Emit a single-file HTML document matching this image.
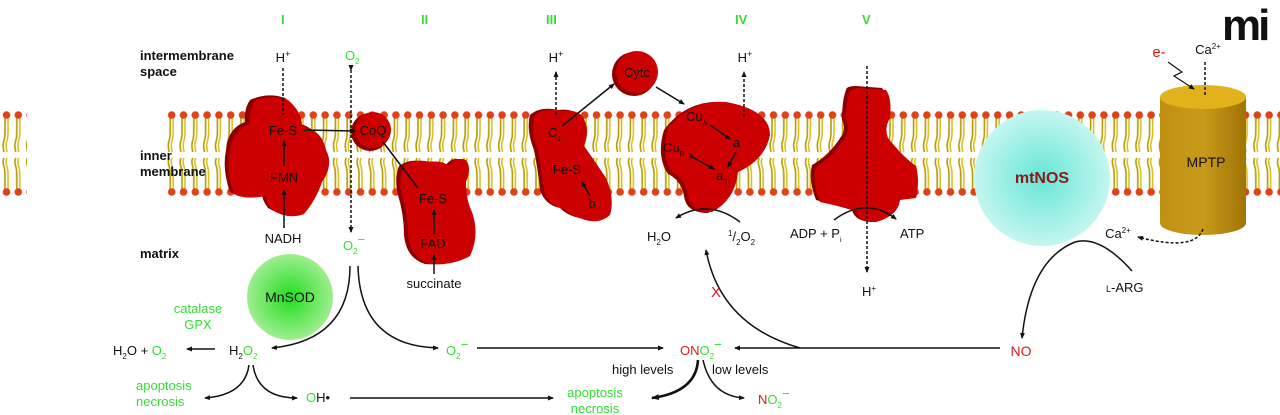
<!DOCTYPE html>
<html><head><meta charset="utf-8"><style>
html,body{margin:0;padding:0;background:#fff;}
svg{display:block;}
text{font-family:"Liberation Sans",Arial,sans-serif;font-size:13px;fill:#111;}
.g{fill:#33dd33;}
.r{fill:#e0181b;}
.b{font-weight:bold;}
.ln{stroke:#111;stroke-width:1.5;fill:none;}
.dl{stroke:#111;stroke-width:1.5;fill:none;stroke-dasharray:3,2;}
.blob{fill:#cc0000;}
.sh{fill:#8e0000;}
</style></head><body>
<svg width="1280" height="415" viewBox="0 0 1280 415" xmlns="http://www.w3.org/2000/svg">
<defs>
<pattern id="lip" x="1" y="0" width="11.8" height="415" patternUnits="userSpaceOnUse">
  <path d="M4 116 V132 Q4 138 2.5 142 Q1.5 146 3 152" stroke="#b49a00" stroke-width="1.6" fill="none"/>
  <path d="M7 116 V132 Q7 138 5.5 142 Q4.5 146 6 152" stroke="#d8c020" stroke-width="1.6" fill="none"/>
  <path d="M4 192 V175 Q4 169 2.5 165 Q1.5 161 3 158" stroke="#b49a00" stroke-width="1.6" fill="none"/>
  <path d="M7 192 V175 Q7 169 5.5 165 Q4.5 161 6 158" stroke="#d8c020" stroke-width="1.6" fill="none"/>
  <circle cx="5.5" cy="115" r="3.8" fill="#e0401a"/>
  <circle cx="5.5" cy="192" r="3.8" fill="#e0401a"/>
</pattern>
<radialGradient id="sod" cx="50%" cy="50%" r="50%"><stop offset="0" stop-color="#22dd22"/><stop offset="1" stop-color="#9eee8e"/></radialGradient>
<radialGradient id="nos" cx="50%" cy="50%" r="50%"><stop offset="0" stop-color="#66e6d6"/><stop offset="1" stop-color="#c4f6f0"/></radialGradient>
<linearGradient id="cyl" x1="0" x2="1"><stop offset="0" stop-color="#c09012"/><stop offset="0.5" stop-color="#c89a1a"/><stop offset="1" stop-color="#a07406"/></linearGradient>
<marker id="a" markerWidth="8" markerHeight="8" refX="7" refY="4" orient="auto" markerUnits="userSpaceOnUse"><path d="M0 1 L8 4 L0 7 z" fill="#111"/></marker>
<marker id="as" markerWidth="6" markerHeight="6" refX="5" refY="3" orient="auto" markerUnits="userSpaceOnUse"><path d="M0 0.5 L6 3 L0 5.5 z" fill="#111"/></marker>
</defs>

<rect x="0" y="105" width="27" height="95" fill="url(#lip)"/>
<rect x="165" y="105" width="1115" height="95" fill="url(#lip)"/>

<text class="b" x="140" y="60">intermembrane</text>
<text class="b" x="140" y="76">space</text>
<text class="b" x="140" y="160">inner</text>
<text class="b" x="140" y="176">membrane</text>
<text class="b" x="140" y="258">matrix</text>

<text class="g b" x="281" y="24">I</text>
<text class="g b" x="421" y="24">II</text>
<text class="g b" x="546" y="24">III</text>
<text class="g b" x="735" y="24">IV</text>
<text class="g b" x="862" y="24">V</text>

<!-- Complex I -->
<path class="sh" d="M250 100 Q268 92 285 98 Q300 110 300 124 Q318 128 322 150 Q330 165 318 180 Q312 200 300 212 Q285 218 268 208 Q262 200 262 194 Q240 198 230 192 Q222 170 226 150 Q228 128 245 122 Q244 108 250 100z"/>
<path class="blob" d="M256 100 Q272 94 288 100 Q302 112 302 126 Q322 130 326 150 Q334 165 322 182 Q316 200 304 214 Q288 220 272 210 Q266 202 266 196 Q244 200 234 194 Q226 172 230 152 Q232 130 250 124 Q249 110 256 100z"/>
<circle class="sh" cx="370" cy="132" r="19"/>
<circle class="blob" cx="373" cy="130" r="18"/>
<!-- Complex II -->
<path class="sh" d="M399 166 Q410 158 425 162 Q438 160 445 166 Q452 156 462 160 Q468 168 462 182 Q462 200 468 212 Q478 235 466 255 Q448 266 425 264 Q406 258 404 235 Q404 215 398 195 Q394 178 399 166z"/>
<path class="blob" d="M404 166 Q415 158 430 162 Q442 160 449 166 Q456 156 466 160 Q472 168 466 182 Q466 200 472 212 Q480 235 470 256 Q452 266 430 264 Q410 258 408 235 Q408 215 402 195 Q398 178 404 166z"/>
<!-- Complex III -->
<path class="sh" d="M530 115 Q540 106 558 110 Q575 108 580 118 Q586 130 580 145 Q590 160 602 178 Q612 198 606 215 Q595 225 580 218 Q568 216 560 208 Q545 205 540 190 Q538 170 534 150 Q526 130 530 115z"/>
<path class="blob" d="M535 115 Q545 107 562 111 Q579 109 584 119 Q590 131 584 146 Q594 160 606 178 Q615 198 610 215 Q599 225 584 219 Q572 217 564 209 Q549 206 544 191 Q542 171 538 151 Q530 130 535 115z"/>
<circle class="sh" cx="634" cy="74" r="22"/>
<circle class="blob" cx="637" cy="72" r="21"/>
<!-- Complex IV -->
<path class="sh" d="M664 130 Q686 100 722 102 Q766 108 766 136 Q762 160 734 172 Q732 200 708 213 Q686 213 684 196 Q681 180 668 174 Q656 156 664 130z"/>
<path class="blob" d="M668 128 Q690 100 726 102 Q770 110 770 135 Q765 160 738 172 Q735 200 712 212 Q690 212 688 195 Q685 178 672 172 Q660 155 668 128z"/>
<!-- Complex V -->
<path class="sh" d="M846 90 Q846 86 856 86 L882 88 Q888 96 886 118 Q880 128 884 138 Q900 158 912 165 Q916 182 912 196 L898 198 Q896 215 874 222 Q855 222 852 210 L816 200 Q808 180 812 165 Q830 155 842 135 Q846 128 842 120 Q842 100 846 90z"/>
<path class="blob" d="M850 92 Q852 88 862 88 L886 90 Q892 98 890 118 Q884 128 888 138 Q904 158 916 166 Q920 182 916 198 L900 200 Q898 216 876 222 Q858 222 856 210 L820 202 Q812 182 816 167 Q834 156 846 136 Q850 128 846 120 Q846 102 850 92z"/>

<circle cx="1042" cy="178" r="68" fill="url(#nos)"/>
<text class="b" x="1042" y="183" text-anchor="middle" style="fill:#8b1a1a;font-size:16px">mtNOS</text>

<path d="M1160 97 V223 A43 12 0 0 0 1246 223 V97 z" fill="url(#cyl)"/>
<ellipse cx="1203" cy="97" rx="43" ry="12" fill="#e2b21c"/>
<text x="1206" y="167" text-anchor="middle" style="font-size:14px">MPTP</text>
<path class="dl" d="M1205 62 V95"/>
<text x="1208" y="54" text-anchor="middle">Ca<tspan dy="-5" style="font-size:8px">2+</tspan></text>
<text class="r" x="1159" y="57" text-anchor="middle" style="font-size:15px">e-</text>
<path d="M1168 62 L1182 72 L1174 76 L1194 89" stroke="#111" stroke-width="1.2" fill="none" marker-end="url(#as)"/>
<text x="1118" y="238" text-anchor="middle">Ca<tspan dy="-5" style="font-size:8px">2+</tspan></text>
<path class="dl" d="M1203 229 Q1195 252 1138 237" marker-end="url(#as)"/>

<text x="1222" y="40" style="font-size:44px;font-weight:bold;letter-spacing:-3px">mi</text>

<text x="283" y="62" text-anchor="middle">H<tspan dy="-5" style="font-size:9px">+</tspan></text>
<path class="dl" d="M283 68 V115"/>
<text x="283" y="135" text-anchor="middle">Fe-S</text>
<text x="284" y="182" text-anchor="middle">FMN</text>
<text x="283" y="243" text-anchor="middle">NADH</text>
<path class="ln" d="M284 166 V141" marker-end="url(#as)"/>
<path class="ln" d="M284 228 V190" marker-end="url(#as)"/>
<path class="ln" d="M304 130 L355 131" marker-end="url(#as)"/>
<text x="373" y="135" text-anchor="middle">CoQ</text>

<text class="g" x="345" y="60">O<tspan dy="4" style="font-size:8px">2</tspan></text>
<path class="dl" d="M351 70 V232" marker-start="url(#as)" marker-end="url(#as)"/>
<text class="g" x="343" y="250">O<tspan dy="4" style="font-size:8px">2</tspan><tspan dy="-10">−</tspan></text>

<path class="ln" d="M383 142 L418 188"/>
<text x="433" y="203" text-anchor="middle">Fe-S</text>
<text x="433" y="248" text-anchor="middle">FAD</text>
<text x="434" y="288" text-anchor="middle">succinate</text>
<path class="ln" d="M434 234 V210" marker-end="url(#as)"/>
<path class="ln" d="M434 274 V255" marker-end="url(#as)"/>

<text x="556" y="62" text-anchor="middle">H<tspan dy="-5" style="font-size:9px">+</tspan></text>
<path class="dl" d="M556 115 V72" marker-end="url(#as)"/>
<text x="548" y="137">C<tspan dy="4" style="font-size:7px">1</tspan></text>
<text x="567" y="174" text-anchor="middle">Fe-S</text>
<text x="592" y="208" text-anchor="middle">b</text>
<path class="ln" d="M562 126 L614 84" marker-end="url(#as)"/>
<path class="ln" d="M590 196 L582 182" marker-end="url(#as)"/>
<text x="637" y="77" text-anchor="middle">Cytc</text>
<path class="ln" d="M656 87 L684 104" marker-end="url(#as)"/>

<text x="745" y="62" text-anchor="middle">H<tspan dy="-5" style="font-size:9px">+</tspan></text>
<path class="dl" d="M744 117 V72" marker-end="url(#as)"/>
<text x="686" y="121">Cu<tspan dy="4" style="font-size:7px">A</tspan></text>
<text x="733" y="147">a</text>
<text x="663" y="152">Cu<tspan dy="4" style="font-size:7px">B</tspan></text>
<text x="716" y="180">a<tspan dy="4" style="font-size:7px">3</tspan></text>
<path class="ln" d="M710 125 L730 139" marker-end="url(#as)"/>
<path class="ln" d="M736 152 L728 167" marker-end="url(#as)"/>
<path class="ln" d="M694 158 L714 169" marker-start="url(#as)" marker-end="url(#as)"/>
<path class="ln" d="M740 222 Q708 198 676 218" marker-end="url(#as)"/>
<text x="647" y="241">H<tspan dy="4" style="font-size:8px">2</tspan><tspan dy="-4">O</tspan></text>
<text x="728" y="241"><tspan dy="-5" style="font-size:8px">1</tspan><tspan dy="5">/</tspan><tspan dy="4" style="font-size:8px">2</tspan><tspan dy="-4">O</tspan><tspan dy="4" style="font-size:8px">2</tspan></text>

<path class="dl" d="M867 66 V272" marker-end="url(#as)"/>
<path class="ln" d="M834 220 Q866 196 896 219" marker-end="url(#as)"/>
<text x="790" y="238">ADP + P<tspan dy="4" style="font-size:7px">i</tspan></text>
<text x="900" y="238">ATP</text>
<text x="862" y="296">H<tspan dy="-5" style="font-size:8px">+</tspan></text>

<circle cx="290" cy="297" r="43" fill="url(#sod)"/>
<text x="290" y="302" text-anchor="middle" style="font-size:14px">MnSOD</text>

<path class="ln" d="M350 266 Q350 340 272 348" marker-end="url(#as)"/>
<path class="ln" d="M358 266 Q360 346 438 348" marker-end="url(#as)"/>
<text class="g" x="198" y="313" text-anchor="middle">catalase</text>
<text class="g" x="198" y="329" text-anchor="middle">GPX</text>
<text x="113" y="355">H<tspan dy="4" style="font-size:8px">2</tspan><tspan dy="-4">O + </tspan><tspan class="g">O</tspan><tspan class="g" dy="4" style="font-size:8px">2</tspan></text>
<path class="ln" d="M215 349 H187" marker-end="url(#as)"/>
<text x="229" y="355">H<tspan dy="4" style="font-size:8px">2</tspan><tspan dy="-4" class="g">O</tspan><tspan class="g" dy="4" style="font-size:8px">2</tspan></text>
<path class="ln" d="M249 365 Q245 395 205 398" marker-end="url(#as)"/>
<path class="ln" d="M253 365 Q258 398 297 398" marker-end="url(#as)"/>
<text class="g" x="136" y="390">apoptosis</text>
<text class="g" x="136" y="406">necrosis</text>
<text x="306" y="402"><tspan class="g">O</tspan>H•</text>
<path class="ln" d="M350 398 H553" marker-end="url(#as)"/>
<text class="g" x="595" y="397" text-anchor="middle">apoptosis</text>
<text class="g" x="595" y="413" text-anchor="middle">necrosis</text>

<text class="g" x="446" y="355">O<tspan dy="4" style="font-size:8px">2</tspan><tspan dy="-10">−</tspan></text>
<path class="ln" d="M477 348 H663" marker-end="url(#as)"/>
<text x="680" y="355"><tspan class="r">ON</tspan><tspan class="g">O</tspan><tspan class="g" dy="4" style="font-size:8px">2</tspan><tspan class="g" dy="-10">−</tspan></text>
<path class="ln" d="M1000 348 H735" marker-end="url(#as)"/>
<path class="ln" d="M800 348 Q720 325 706 250" marker-end="url(#as)"/>
<text class="r" x="711" y="297" style="font-size:15px">X</text>
<text class="r" x="1021" y="356" text-anchor="middle" style="font-size:14px">NO</text>
<path class="ln" d="M1132 271 Q1100 235 1075 242 Q1030 260 1022 338" marker-end="url(#as)"/>
<text x="1106" y="292"><tspan style="font-size:9px">L</tspan>-ARG</text>

<text x="612" y="374">high levels</text>
<text x="712" y="374">low levels</text>
<path d="M698 360 Q696 392 652 398" stroke="#111" stroke-width="2.6" fill="none" marker-end="url(#a)"/>
<path class="ln" d="M703 360 Q711 396 744 398" marker-end="url(#as)"/>
<text x="758" y="404"><tspan class="r">N</tspan><tspan class="g">O</tspan><tspan class="g" dy="4" style="font-size:8px">2</tspan><tspan class="g" dy="-10">−</tspan></text>
</svg>
</body></html>
